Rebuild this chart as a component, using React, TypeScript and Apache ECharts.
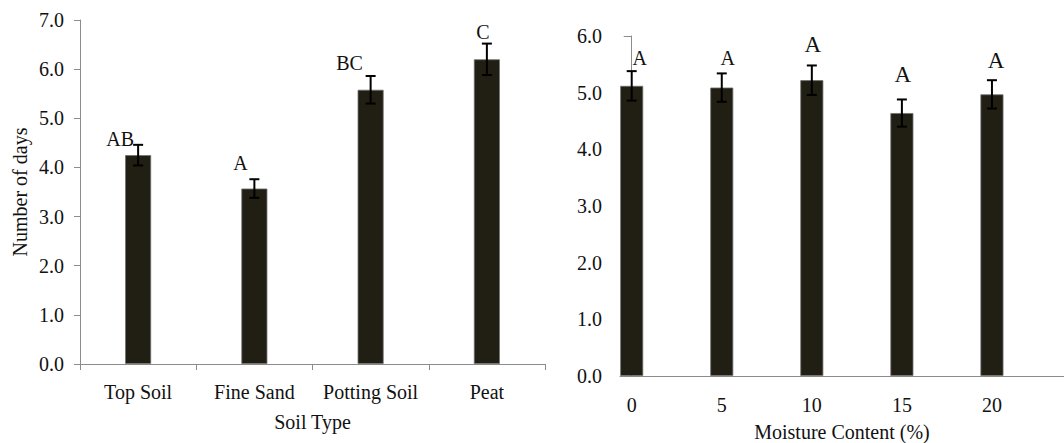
import React, { useEffect, useRef } from "react";
import * as echarts from "echarts";

// ---- Left chart data (Soil Type) ----
const soilTypes = ["Top Soil", "Fine Sand", "Potting Soil", "Peat"];
const soilDays = [4.25, 3.57, 5.58, 6.2];
const soilErr = [0.21, 0.19, 0.28, 0.32];
const soilLetters = ["AB", "A", "BC", "C"];
const soilTicks = [0, 1, 2, 3, 4, 5, 6, 7];

// ---- Right chart data (Moisture Content) ----
const moisture = [0, 5, 10, 15, 20];
const moistDays = [5.12, 5.09, 5.22, 4.64, 4.97];
const moistErr = [0.26, 0.25, 0.26, 0.24, 0.25];
const moistLetters = ["A", "A", "A", "A", "A"];

// ---- label layout (annotation offsets in px, style only) ----
const soilLabelDx = [-18, -14, -21, -4];
const soilLabelDy = [-6, -16, -13, -12];
const moistLabelDx = [8, 6, 1, 1, 4];
const moistLabelDy = [-13, -15, -21, -25, -20];
const moistLabelSize = [20, 20, 23, 23, 23];

const FONT = "'Liberation Serif', 'Times New Roman', serif";
const AXIS_GRAY = "#8c8c8c";
const BAR = "#211e14";

export default function App() {
  const ref = useRef<HTMLDivElement>(null);
  useEffect(() => {
    document.body.style.margin = "0";
    if (!ref.current) return;
    const chart = echarts.init(ref.current, undefined, { renderer: "svg" });

    const errRender = (params: any, api: any) => {
      const x = api.value(0);
      const lo = api.coord([x, api.value(1)]);
      const hi = api.coord([x, api.value(2)]);
      const hw = 5;
      const st = { stroke: "#000", lineWidth: 2 };
      return {
        type: "group",
        children: [
          { type: "line", shape: { x1: lo[0], y1: lo[1], x2: hi[0], y2: hi[1] }, style: st },
          { type: "line", shape: { x1: hi[0] - hw, y1: hi[1], x2: hi[0] + hw, y2: hi[1] }, style: st },
          { type: "line", shape: { x1: lo[0] - hw, y1: lo[1], x2: lo[0] + hw, y2: lo[1] }, style: st },
        ],
      };
    };

    const makeLabelRender = (letters: string[], dx: number[], dy: number[], sizes: number[] | null) =>
      (params: any, api: any) => {
        const i = params.dataIndex;
        const p = api.coord([api.value(0), api.value(1)]);
        return {
          type: "text",
          x: p[0] + dx[i],
          y: p[1] + dy[i],
          style: {
            text: letters[i],
            fill: "#111",
            fontSize: sizes ? sizes[i] : 20,
            fontFamily: FONT,
            align: "center",
            verticalAlign: "middle",
          },
        };
      };

    const axisLabelStyle = { color: "#111", fontSize: 20, fontFamily: FONT };

    chart.setOption({
      animation: false,
      textStyle: { fontFamily: FONT },
      grid: [
        { left: 80, top: 20, width: 465, height: 344, outerBoundsMode: "none", containLabel: false },
        { left: 620, top: 36, width: 444, height: 340, outerBoundsMode: "none", containLabel: false },
      ],
      xAxis: [
        {
          gridIndex: 0,
          type: "category",
          data: soilTypes,
          axisLine: { lineStyle: { color: AXIS_GRAY, width: 1 } },
          axisTick: { show: true, length: 6, lineStyle: { color: AXIS_GRAY } },
          axisLabel: { ...axisLabelStyle, margin: 18, interval: 0 },
          name: "Soil Type",
          nameLocation: "middle",
          nameGap: 48,
          nameTextStyle: axisLabelStyle,
        },
        {
          gridIndex: 1,
          type: "value",
          min: -0.65,
          max: 24,
          axisLine: { show: true, lineStyle: { color: AXIS_GRAY, width: 1 } },
          axisTick: { show: false },
          splitLine: { show: false },
          axisLabel: { ...axisLabelStyle, margin: 19, customValues: moisture },
          name: "Moisture Content (%)",
          nameLocation: "middle",
          nameGap: 46,
          nameTextStyle: axisLabelStyle,
        },
      ],
      yAxis: [
        {
          gridIndex: 0,
          type: "value",
          min: soilTicks[0],
          max: soilTicks[soilTicks.length - 1],
          interval: 1,
          axisLine: { show: true, lineStyle: { color: AXIS_GRAY, width: 1 } },
          axisTick: { show: true, length: 6, lineStyle: { color: AXIS_GRAY } },
          splitLine: { show: false },
          axisLabel: { ...axisLabelStyle, margin: 16, formatter: (v: number) => v.toFixed(1) },
          name: "Number of days",
          nameLocation: "middle",
          nameGap: 50,
          nameTextStyle: axisLabelStyle,
        },
        {
          gridIndex: 1,
          type: "value",
          min: 0,
          max: 6,
          interval: 1,
          axisLine: { show: true, lineStyle: { color: AXIS_GRAY, width: 1 } },
          axisTick: { show: true, length: 8, lineStyle: { color: AXIS_GRAY } },
          splitLine: { show: false },
          axisLabel: { ...axisLabelStyle, margin: 18, formatter: (v: number) => v.toFixed(1) },
        },
      ],
      series: [
        {
          type: "bar",
          xAxisIndex: 0,
          yAxisIndex: 0,
          data: soilDays,
          barWidth: 26,
          itemStyle: { color: BAR, borderColor: "#6e6e6e", borderWidth: 0.8 },
        },
        {
          type: "custom",
          xAxisIndex: 0,
          yAxisIndex: 0,
          renderItem: errRender,
          encode: { x: 0, y: [1, 2] },
          data: soilDays.map((v, i) => [i, v - soilErr[i], v + soilErr[i]]),
          z: 5,
        },
        {
          type: "custom",
          xAxisIndex: 0,
          yAxisIndex: 0,
          renderItem: makeLabelRender(soilLetters, soilLabelDx, soilLabelDy, null),
          encode: { x: 0, y: 1 },
          data: soilDays.map((v, i) => [i, v + soilErr[i]]),
          z: 6,
        },
        {
          type: "bar",
          xAxisIndex: 1,
          yAxisIndex: 1,
          data: moistDays.map((v, i) => [moisture[i], v]),
          barWidth: 23,
          itemStyle: { color: BAR, borderColor: "#6e6e6e", borderWidth: 0.8 },
        },
        {
          type: "custom",
          xAxisIndex: 1,
          yAxisIndex: 1,
          renderItem: errRender,
          encode: { x: 0, y: [1, 2] },
          data: moistDays.map((v, i) => [moisture[i], v - moistErr[i], v + moistErr[i]]),
          z: 5,
        },
        {
          type: "custom",
          xAxisIndex: 1,
          yAxisIndex: 1,
          renderItem: makeLabelRender(moistLetters, moistLabelDx, moistLabelDy, moistLabelSize),
          encode: { x: 0, y: 1 },
          data: moistDays.map((v, i) => [moisture[i], v + moistErr[i]]),
          z: 6,
        },
      ],
    });
    return () => chart.dispose();
  }, []);
  return <div ref={ref} style={{ width: 1064, height: 443 }} />;
}
